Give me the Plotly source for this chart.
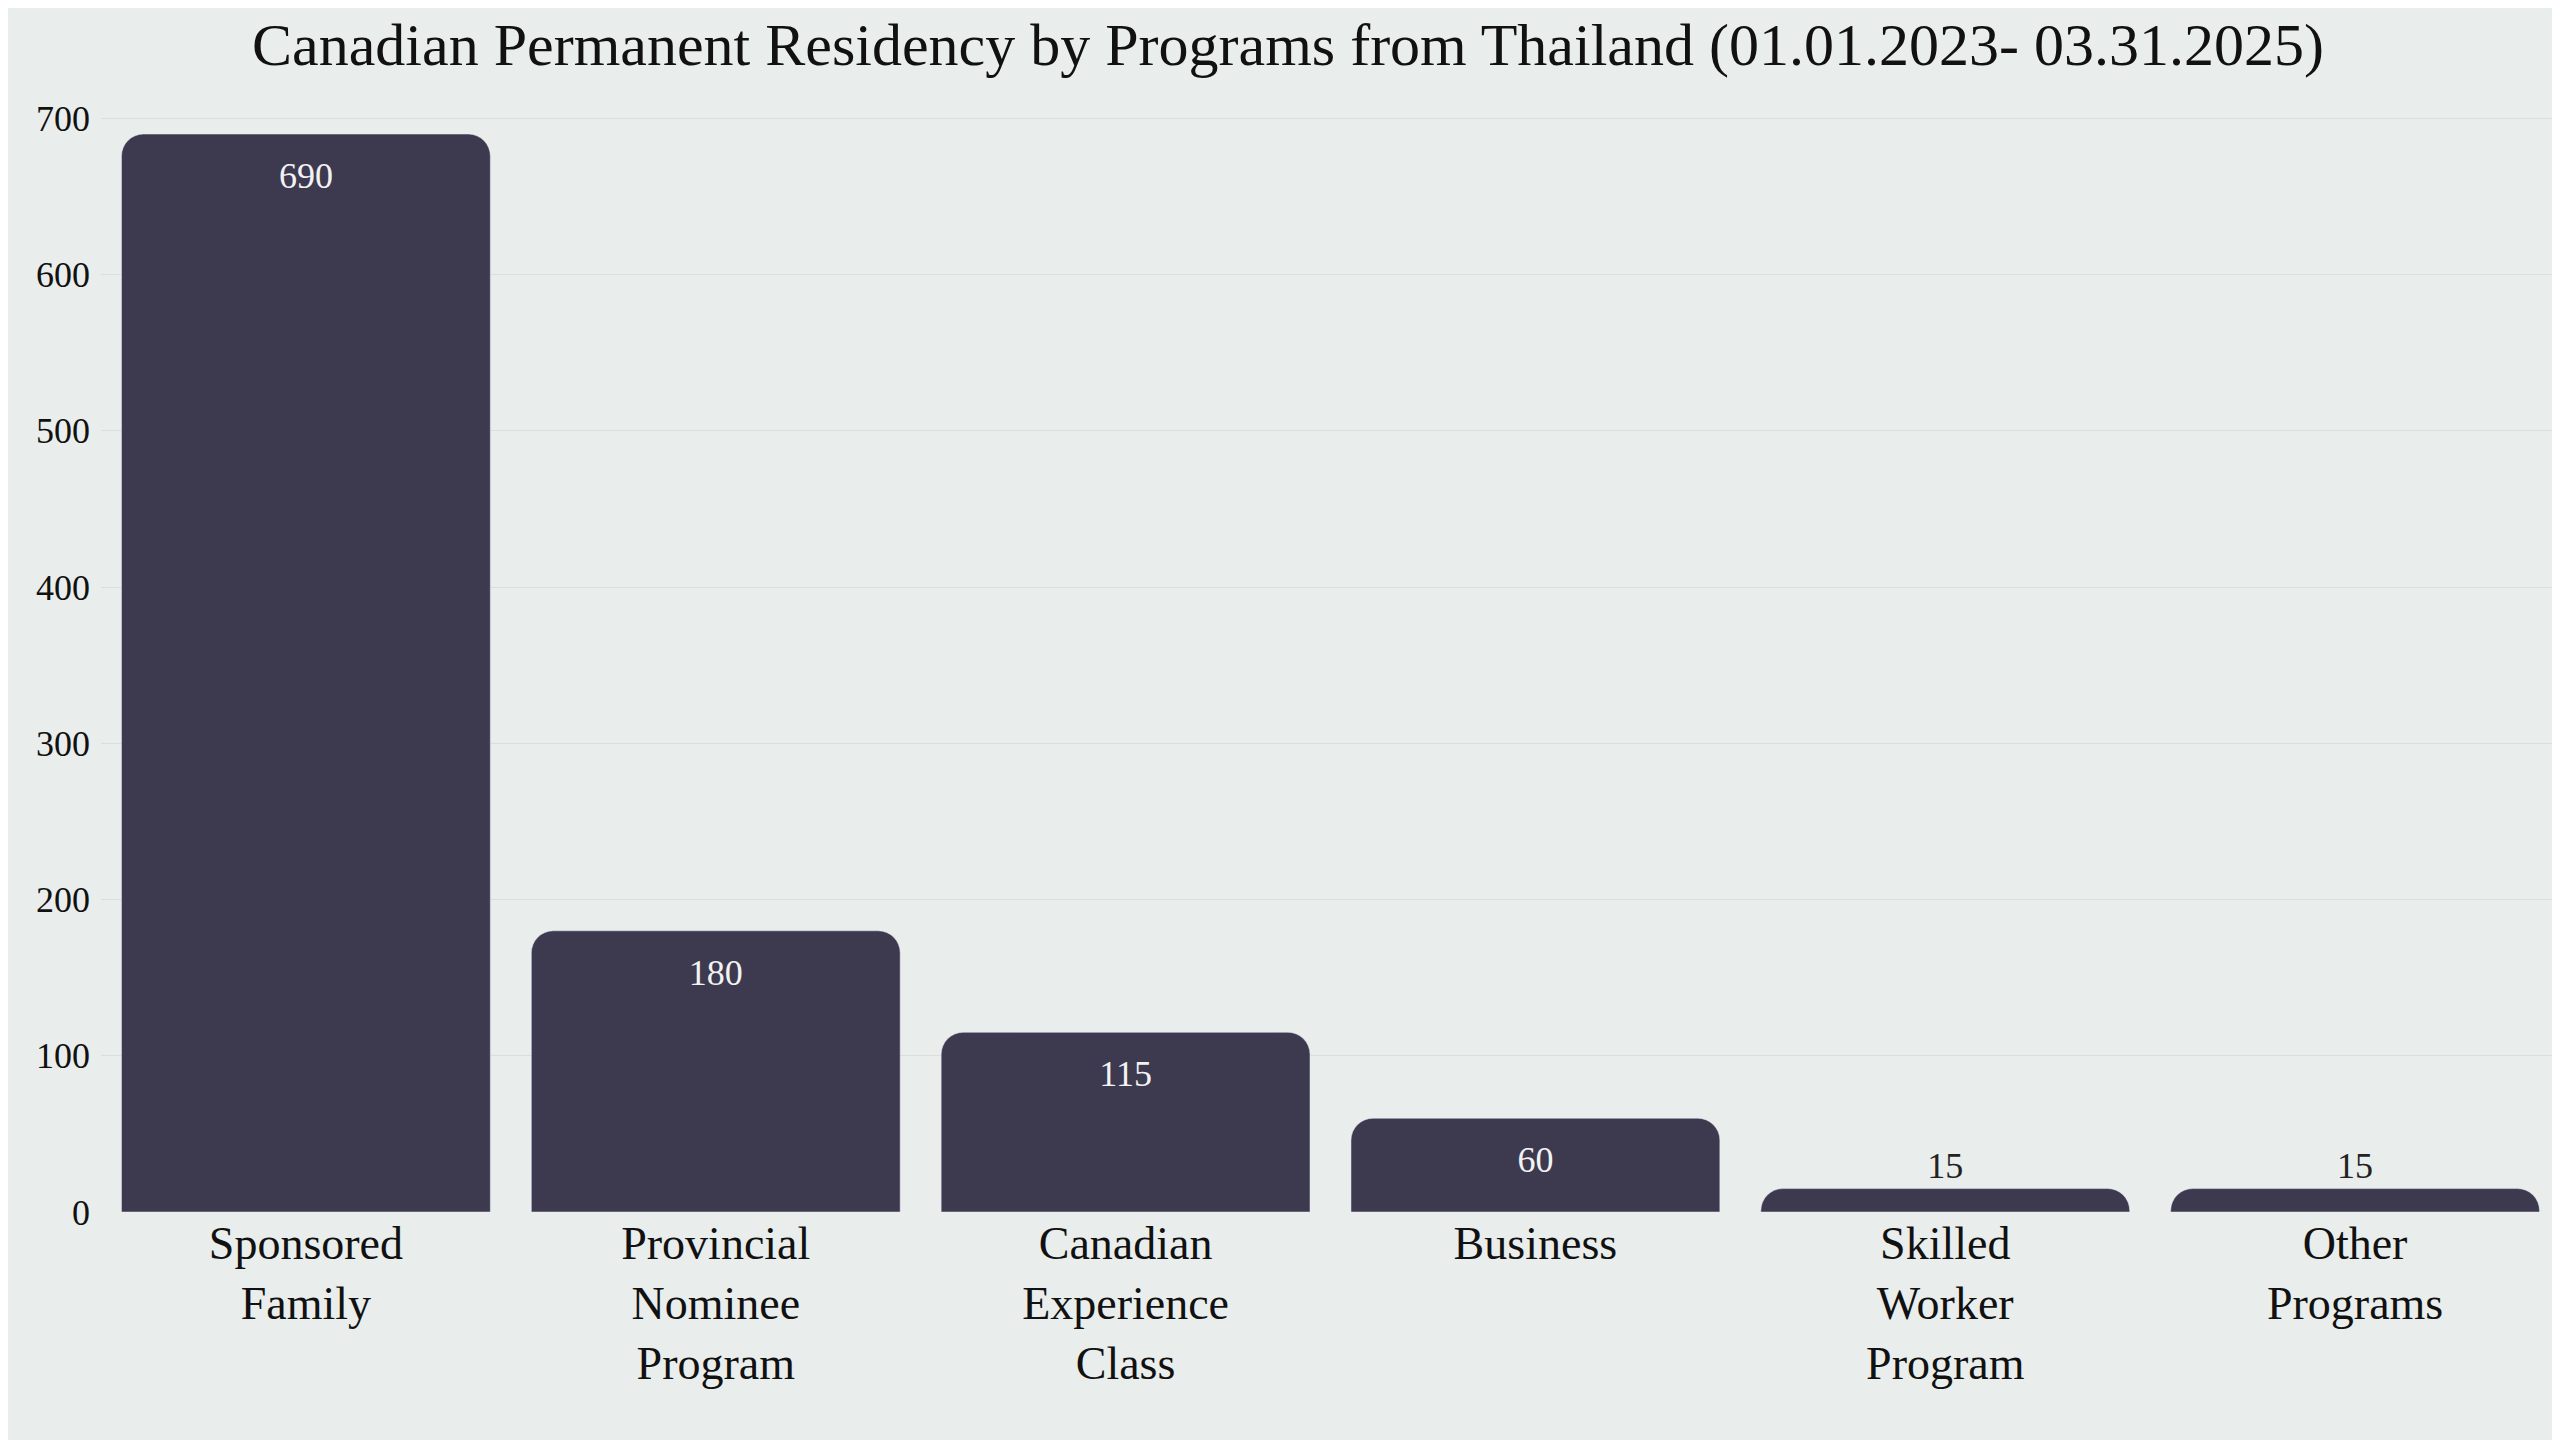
import plotly.graph_objects as go

programs = ["Sponsored<br>Family", "Provincial<br>Nominee<br>Program", "Canadian<br>Experience<br>Class",
            "Business", "Skilled<br>Worker<br>Program", "Other<br>Programs"]
residents = [690, 180, 115, 60, 15, 15]
label_pos = ["inside", "inside", "inside", "inside", "outside", "outside"]

bg = "#E9EDEC"
bar_col = "#3D3A50"
font = "Liberation Serif"

fig = go.Figure()
fig.add_trace(go.Bar(
    x=programs, y=residents,
    marker=dict(color=bar_col, cornerradius=22),
    text=residents, textposition=label_pos, insidetextanchor="end",
    insidetextfont=dict(color="#F2F2F2", size=36, family=font),
    outsidetextfont=dict(color="#222", size=36, family=font),
    cliponaxis=False,
))
fig.update_layout(
    width=2560, height=1440,
    paper_bgcolor=bg, plot_bgcolor=bg,
    font=dict(family=font, color="#111"),
    title=dict(text="Canadian Permanent Residency by Programs from Thailand (01.01.2023- 03.31.2025)",
               x=0.5, xanchor="center", y=0.975, yanchor="middle", font=dict(size=60)),
    margin=dict(l=93, r=8, t=87, b=236),
    bargap=0.1,
    showlegend=False,
)
fig.update_xaxes(tickfont=dict(size=46), showgrid=False)
fig.update_yaxes(range=[0, 715], dtick=100, tickfont=dict(size=36), gridcolor="#DADFDE",
                 zeroline=False, ticks="", ticklabelstandoff=10)
fig.write_html("out.html")
